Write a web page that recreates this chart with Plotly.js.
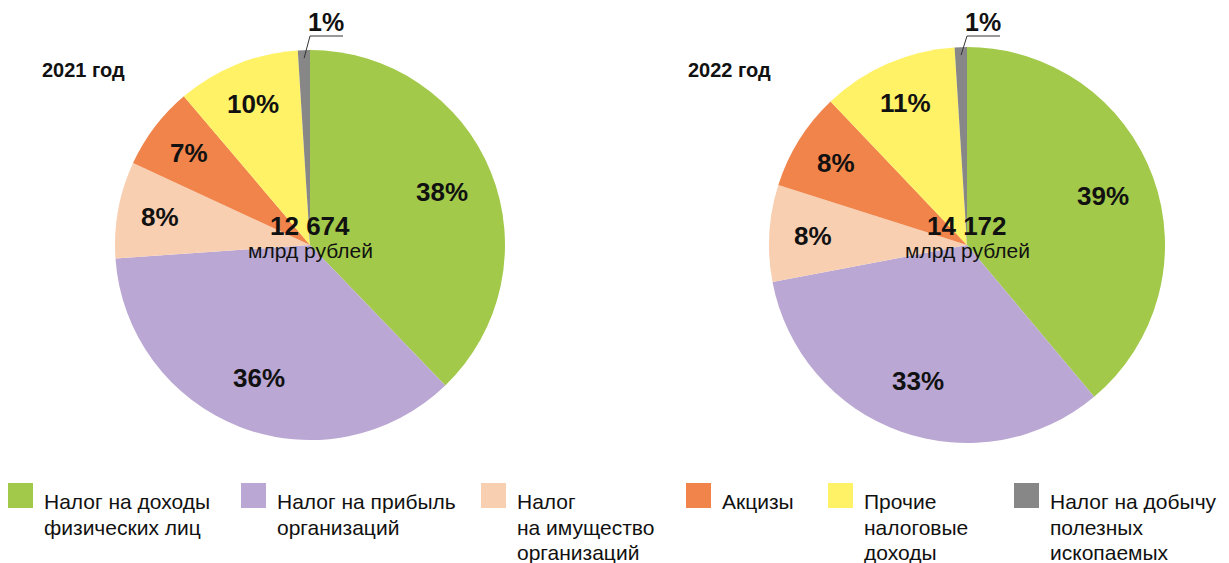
<!DOCTYPE html>
<html>
<head>
<meta charset="utf-8">
<script src="https://cdn.plot.ly/plotly-3.0.1.min.js"></script>
<style>
  html, body { margin: 0; padding: 0; background: #fff; }
  #chart { width: 1229px; height: 563px; }
</style>
</head>
<body>
<div id="chart"></div>
<script>
// data
const categories = ['Налог на доходы физических лиц', 'Налог на прибыль организаций', 'Налог на имущество организаций',
    'Акцизы', 'Прочие налоговые доходы', 'Налог на добычу полезных ископаемых'];
const legendLabels = ['Налог на доходы<br>физических лиц', 'Налог на прибыль<br>организаций', 'Налог<br>на имущество<br>организаций',
    'Акцизы', 'Прочие<br>налоговые<br>доходы', 'Налог на добычу<br>полезных<br>ископаемых'];
const years = ['2021 год', '2022 год'];
const totals = ['12 674', '14 172'];
const unit = 'млрд рублей';
const share2021 = [37.8, 36.1, 8.0, 6.9, 10.2, 1.0];
const share2022 = [38.9, 33.1, 7.9, 8.0, 11.1, 1.0];

const colors = ['#A2C94A', '#BAA7D3', '#F9CFB1', '#F0844B', '#FFF266', '#878787'];

// layout helpers (pixels -> paper)
const W = 1229, H = 563;
const X = px => px / W;
const Y = py => 1 - py / H;
const FONT = 'Liberation Sans, Arial, Helvetica, sans-serif';

const pies = [
    { cx: 310, cy: 245, r: 195, values: share2021, titleX: 40 },
    { cx: 967, cy: 245, r: 198, values: share2022, titleX: 686 }
];

const traces = [];
const annotations = [];
const shapes = [];

function label(text, px, py, size, anchor) {
    annotations.push({
        text: text, xref: 'paper', yref: 'paper',
        x: X(px), y: Y(py), xanchor: anchor || 'center', yanchor: 'middle',
        showarrow: false, font: { family: FONT, size: size, color: '#111' }
    });
}

pies.forEach((p, k) => {
    traces.push({
        type: 'pie',
        labels: categories,
        values: p.values,
        marker: { colors: colors, line: { width: 0 } },
        sort: false,
        direction: 'clockwise',
        rotation: 0,
        textinfo: 'none',
        hoverinfo: 'skip',
        domain: { x: [X(p.cx - p.r), X(p.cx + p.r)], y: [Y(p.cy + p.r), Y(p.cy - p.r)] }
    });

    const total = p.values.reduce((a, b) => a + b, 0);
    let cum = 0;
    p.values.forEach((v, i) => {
        const mid = (cum + v / 2) / total * 2 * Math.PI;
        cum += v;
        const txt = '<b>' + Math.round(v) + '%</b>';
        if (v < 3) {
            // small slice: label above the pie with a leader line
            const x1 = p.cx + (p.r - 8) * Math.sin(mid), y1 = p.cy - (p.r - 8) * Math.cos(mid);
            shapes.push({
                type: 'path', xref: 'paper', yref: 'paper',
                path: `M ${X(x1)},${Y(y1)} L ${X(p.cx)},${Y(36)} L ${X(p.cx + 33)},${Y(36)}`,
                line: { color: '#333', width: 1 }
            });
            label(txt, p.cx + 16, 22, 25);
        } else {
            const rr = p.r * (v > 30 ? 0.73 : 0.78);
            label(txt, p.cx + rr * Math.sin(mid), p.cy - rr * Math.cos(mid), 26);
        }
    });

    // total in the centre
    label('<b>' + totals[k] + '</b>', p.cx, 226, 26);
    label(unit, p.cx, 251, 21);
    // year
    label('<b>' + years[k] + '</b>', p.titleX, 70, 20, 'left');
});

// legend drawn by hand so the swatches can be large
const legendSwatchX = [8, 241, 481, 686, 828, 1014];
legendLabels.forEach((lab, i) => {
    const sx = legendSwatchX[i];
    shapes.push({
        type: 'rect', xref: 'paper', yref: 'paper',
        x0: X(sx), x1: X(sx + 25), y0: Y(508), y1: Y(483),
        fillcolor: colors[i], line: { width: 0 }
    });
    lab.split('<br>').forEach((line, j) => {
        label(line, sx + 34, 502 + 25 * j, 21, 'left');
    });
});

const layout = {
    width: W,
    height: H,
    margin: { l: 0, r: 0, t: 0, b: 0 },
    showlegend: false,
    paper_bgcolor: '#fff',
    annotations: annotations,
    shapes: shapes
};

Plotly.newPlot('chart', traces, layout, { displayModeBar: false, staticPlot: true });
</script>
</body>
</html>
